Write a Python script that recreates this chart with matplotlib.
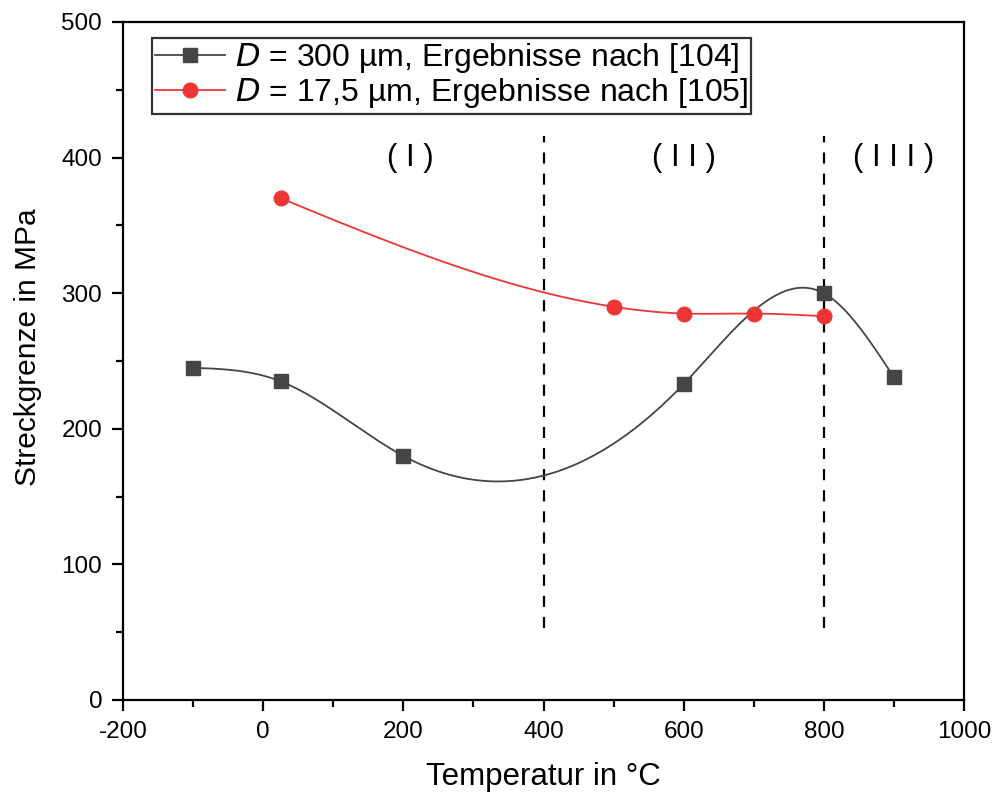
import numpy as np
import matplotlib
matplotlib.use("Agg")
import matplotlib.pyplot as plt
from matplotlib.ticker import MultipleLocator

plt.rcParams['font.family'] = ['Liberation Sans', 'DejaVu Sans']
plt.rcParams['axes.unicode_minus'] = False

# Data
temp_300 = [-100, 25, 200, 600, 800, 900]
yield_300 = [245, 235, 180, 233, 300, 238]
temp_175 = [25, 500, 600, 700, 800]
yield_175 = [370, 290, 285, 285, 283]
label_300 = "$\\it{D}$ = 300 µm, Ergebnisse nach [104]"
label_175 = "$\\it{D}$ = 17,5 µm, Ergebnisse nach [105]"
region_labels = ["( I )", "( I I )", "( I I I )"]
region_x = [210, 600, 900]
region_y = 400
boundaries = [400, 800]


def natural_spline(x, y, n=400):
    x = np.asarray(x, float)
    y = np.asarray(y, float)
    k = len(x)
    h = np.diff(x)
    A = np.zeros((k, k))
    b = np.zeros(k)
    A[0, 0] = 1
    A[-1, -1] = 1
    for i in range(1, k - 1):
        A[i, i - 1] = h[i - 1]
        A[i, i] = 2 * (h[i - 1] + h[i])
        A[i, i + 1] = h[i]
        b[i] = 6 * ((y[i + 1] - y[i]) / h[i] - (y[i] - y[i - 1]) / h[i - 1])
    M = np.linalg.solve(A, b)
    xs = np.linspace(x[0], x[-1], n)
    idx = np.clip(np.searchsorted(x, xs) - 1, 0, k - 2)
    x0, x1 = x[idx], x[idx + 1]
    hh = x1 - x0
    t0 = x1 - xs
    t1 = xs - x0
    ys = (M[idx] * t0 ** 3 / (6 * hh) + M[idx + 1] * t1 ** 3 / (6 * hh)
          + (y[idx] / hh - M[idx] * hh / 6) * t0
          + (y[idx + 1] / hh - M[idx + 1] * hh / 6) * t1)
    return xs, ys


fig = plt.figure(figsize=(9.97, 7.96), dpi=100)
ax = fig.add_axes([123 / 997, 96 / 796, 841 / 997, 678 / 796])

c_black = '#454545'
c_red = '#ee3535'

xs, ys = natural_spline(temp_300, yield_300)
ax.plot(xs, ys, color=c_black, lw=1.3, zorder=3)
ax.plot(temp_300, yield_300, 's', color=c_black, ms=9.5, zorder=4, lw=0)
xs, ys = natural_spline(temp_175, yield_175)
ax.plot(xs, ys, color=c_red, lw=1.3, zorder=3)
ax.plot(temp_175, yield_175, 'o', color=c_red, ms=10.5, zorder=4, lw=0)

# legend proxies
h1, = ax.plot([], [], color=c_black, lw=1.3, marker='s', ms=9.5)
h2, = ax.plot([], [], color=c_red, lw=1.3, marker='o', ms=10.5)
leg = ax.legend([h1, h2], [label_300, label_175], loc='upper left',
                bbox_to_anchor=(0.034, 0.976), fontsize=23, frameon=True,
                fancybox=False, edgecolor='black', handlelength=2.2,
                handletextpad=0.3, borderpad=0.1, labelspacing=0.03,
                borderaxespad=0)
leg.get_frame().set_linewidth(1.6)

for bx in boundaries:
    ax.plot([bx, bx], [53, 416], color='black', lw=1.6, ls=(0, (5, 4.5)), zorder=2)

for lx, lt in zip(region_x, region_labels):
    ax.text(lx, region_y, lt, ha='center', va='center', fontsize=22.5)

ax.set_xlim(-200, 1000)
ax.set_ylim(0, 500)
ax.xaxis.set_major_locator(MultipleLocator(200))
ax.xaxis.set_minor_locator(MultipleLocator(100))
ax.yaxis.set_major_locator(MultipleLocator(100))
ax.yaxis.set_minor_locator(MultipleLocator(50))
ax.tick_params(which='major', direction='out', length=8, width=1.6,
               labelsize=17.5, pad=7)
ax.tick_params(which='minor', direction='out', length=5, width=1.6)
for s in ax.spines.values():
    s.set_linewidth(1.6)

ax.set_xlabel("Temperatur in °C", fontsize=22.5, labelpad=14)
ax.set_ylabel("Streckgrenze in MPa", fontsize=21.5)
ax.yaxis.set_label_coords(-0.096, 0.521)

fig.savefig("out.png", dpi=100)
